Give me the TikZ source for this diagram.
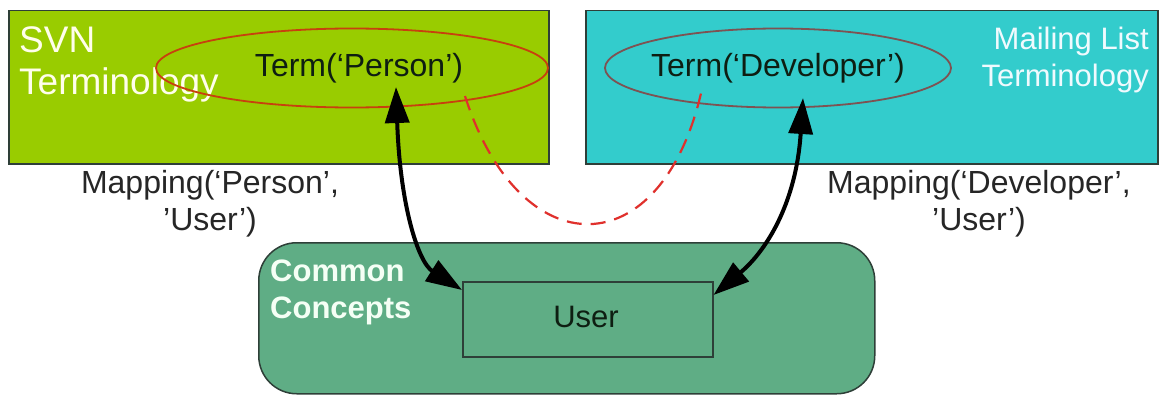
\documentclass[tikz,border=0pt]{standalone}
\usepackage{fontspec}
\setmainfont{Liberation Sans}
\usetikzlibrary{arrows.meta,shapes.geometric}

\definecolor{svngreen}{HTML}{99CC00}
\definecolor{mlcyan}{HTML}{33CCCC}
\definecolor{conceptgreen}{HTML}{5FAD85}
\definecolor{boxedge}{HTML}{2E3F38}
\definecolor{personedge}{HTML}{C8400E}
\definecolor{devedge}{HTML}{7E5252}
\definecolor{dashred}{HTML}{E0302C}
\definecolor{darktext}{HTML}{0E1E12}

\tikzset{
  area/.style={draw=boxedge, line width=1.5pt, inner sep=0pt, anchor=north west},
  termoval/.style={ellipse, line width=1.8pt, inner sep=0pt,
    minimum height=79pt},
  termtext/.style={font=\fontsize{32}{38}\selectfont, text=darktext, anchor=base},
  title/.style={inner sep=0pt, font=\fontsize{31}{37}\selectfont},
  maplabel/.style={inner sep=0pt, anchor=north, align=center,
    text=black!85, font=\fontsize{32}{37}\selectfont},
  biarrow/.style={line width=4pt, black,
    {Triangle[length=36pt,width=24pt]}-{Triangle[length=36pt,width=24pt]}},
  dashline/.style={dashred, line width=2.2pt, dash pattern=on 15pt off 9pt}
}

\begin{document}
\begin{tikzpicture}[x=1pt,y=-1pt]
\useasboundingbox[fill=white] (0,0) rectangle (1163,396);

% terminology areas
\node[area, fill=svngreen, minimum width=540pt, minimum height=153pt] (svn) at (8,10) {};
\node[area, fill=mlcyan, minimum width=572pt, minimum height=153pt] (ml) at (585,10) {};

% common concepts area
\node[area, fill=conceptgreen, rounded corners=38pt,
  minimum width=616pt, minimum height=151pt] (common) at (258,242) {};
\node[area, fill=conceptgreen, minimum width=250pt, minimum height=75pt] (user) at (462,281) {};

% area titles
\node[title, anchor=north west, align=left, text=yellow!8!white,
  font=\fontsize{37}{42}\selectfont] (svntitle) at (19,26) {SVN\\Terminology};
\node[title, anchor=north east, align=right, text=cyan!6!white] (mltitle) at (1149,27)
  {Mailing List\\Terminology};
\node[title, anchor=north west, align=left, text=green!4!white,
  font=\bfseries\fontsize{31}{37}\selectfont] (cctitle) at (270,260) {Common\\Concepts};

% terms
\node[termoval, draw=personedge, minimum width=392pt] (person) at (352,68) {};
\node[termoval, draw=devedge, minimum width=346pt] (developer) at (778,68) {};
\node[termtext] (persontext) at (359,77) {Term(‘Person’)};
\node[termtext] (devtext) at (778,77) {Term(‘Developer’)};
\node[termtext, font=\fontsize{31}{37}\selectfont] (usertext) at (586,327) {User};

% mapping labels
\node[maplabel] (mapperson) at (210,170) {Mapping(‘Person’,\\'User’)};
\node[maplabel] (mapdev) at (979,170) {Mapping(‘Developer’,\\'User’)};

% connector ends
\coordinate (pTip) at (396,87);
\coordinate (dTip) at (803,98);
\coordinate (uL) at ([yshift=-9pt]user.north west);
\coordinate (uR) at ([yshift=-14pt]user.north east);
\coordinate (dA) at (465,96);
\coordinate (dB) at (702,89);

% term-to-term correspondence
\draw[dashline] (dA) .. controls (520,268) and (662,268) .. (dB);

% mappings to the common concept
\draw[biarrow] (pTip) .. controls (400,205) and (418,262) .. (uL);
\draw[biarrow] (dTip) .. controls (796,205) and (765,252) .. (uR);
\end{tikzpicture}
\end{document}
